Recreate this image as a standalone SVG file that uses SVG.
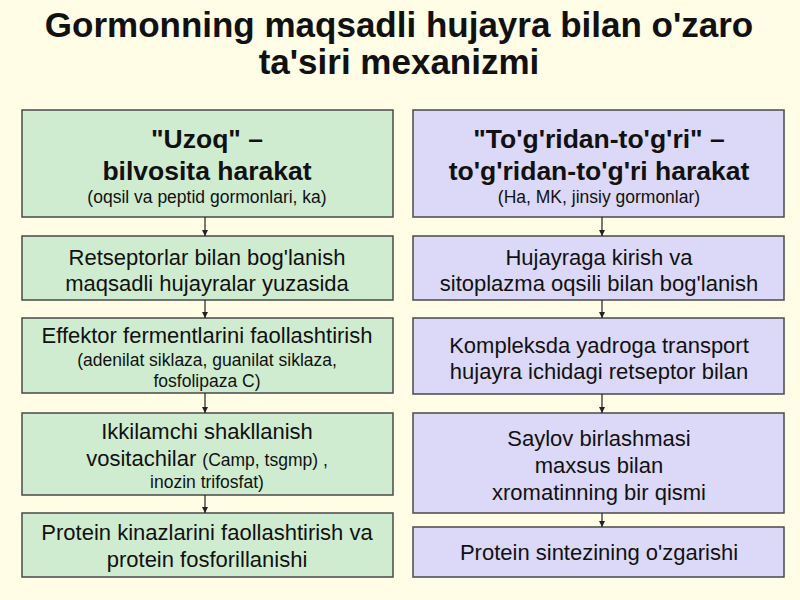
<svg xmlns="http://www.w3.org/2000/svg" width="800" height="600" viewBox="0 0 800 600">
<style>
text{font-family:"Liberation Sans",Arial,sans-serif;fill:#111;text-anchor:middle}
.t{font-size:35px;font-weight:bold}
.h{font-size:26.5px;font-weight:bold}
.m{font-size:22px}
.s{font-size:17.5px}
.g{fill:#d0ecd0;stroke:#4a4a4a;stroke-width:1.5}
.p{fill:#dcd8f7;stroke:#4a4a4a;stroke-width:1.5}
.c{stroke:#222;stroke-width:1.2;fill:none;marker-end:url(#a)}
</style>
<defs>
<marker id="a" viewBox="0 0 8 8" refX="8" refY="4" markerWidth="6" markerHeight="6" markerUnits="userSpaceOnUse" orient="auto">
<path d="M0,0L8,4L0,8z" fill="#222"/>
</marker>
</defs>
<rect width="800" height="600" fill="#fffde6"/>
<g id="title">
<text class="t" x="399" y="37">Gormonning maqsadli hujayra bilan o'zaro</text>
<text class="t" x="399" y="74">ta'siri mexanizmi</text>
</g>
<g id="L1"><rect class="g" x="22" y="110" width="371" height="107"/>
<text class="h" x="207" y="148">"Uzoq" –</text>
<text class="h" x="207" y="180">bilvosita harakat</text>
<text class="s" x="207" y="203">(oqsil va peptid gormonlari, ka)</text></g>
<g id="L2"><rect class="g" x="22" y="236" width="371" height="64"/>
<text class="m" x="207" y="265">Retseptorlar bilan bog'lanish</text>
<text class="m" x="207" y="291">maqsadli hujayralar yuzasida</text></g>
<g id="L3"><rect class="g" x="22" y="318" width="371" height="75"/>
<text class="m" x="207" y="343">Effektor fermentlarini faollashtirish</text>
<text class="s" x="207" y="366">(adenilat siklaza, guanilat siklaza,</text>
<text class="s" x="207" y="387">fosfolipaza C)</text></g>
<g id="L4"><rect class="g" x="22" y="413" width="371" height="82"/>
<text class="m" x="207" y="439">Ikkilamchi shakllanish</text>
<text class="m" x="207" y="466">vositachilar <tspan class="s">(Camp, tsgmp) ,</tspan></text>
<text class="s" x="207" y="488">inozin trifosfat)</text></g>
<g id="L5"><rect class="g" x="22" y="513" width="371" height="64"/>
<text class="m" x="207" y="540">Protein kinazlarini faollashtirish va</text>
<text class="m" x="207" y="567">protein fosforillanishi</text></g>
<g id="R1"><rect class="p" x="413" y="110" width="371" height="107"/>
<text class="h" x="599" y="148">"To'g'ridan-to'g'ri" –</text>
<text class="h" x="599" y="180">to'g'ridan-to'g'ri harakat</text>
<text class="s" x="599" y="203">(Ha, MK, jinsiy gormonlar)</text></g>
<g id="R2"><rect class="p" x="413" y="236" width="371" height="64"/>
<text class="m" x="599" y="265">Hujayraga kirish va</text>
<text class="m" x="599" y="291">sitoplazma oqsili bilan bog'lanish</text></g>
<g id="R3"><rect class="p" x="413" y="318" width="371" height="76"/>
<text class="m" x="599" y="353">Kompleksda yadroga transport</text>
<text class="m" x="599" y="379">hujayra ichidagi retseptor bilan</text></g>
<g id="R4"><rect class="p" x="413" y="413" width="371" height="100"/>
<text class="m" x="599" y="446">Saylov birlashmasi</text>
<text class="m" x="599" y="473">maxsus bilan</text>
<text class="m" x="599" y="500">xromatinning bir qismi</text></g>
<g id="R5"><rect class="p" x="413" y="527" width="371" height="50"/>
<text class="m" x="599" y="560">Protein sintezining o'zgarishi</text></g>
<g id="connectors">
<line class="c" x1="205" y1="217" x2="205" y2="236"/>
<line class="c" x1="205" y1="300" x2="205" y2="318"/>
<line class="c" x1="205" y1="393" x2="205" y2="413"/>
<line class="c" x1="205" y1="495" x2="205" y2="513"/>
<line class="c" x1="602" y1="217" x2="602" y2="236"/>
<line class="c" x1="602" y1="300" x2="602" y2="318"/>
<line class="c" x1="602" y1="394" x2="602" y2="413"/>
<line class="c" x1="602" y1="513" x2="602" y2="527"/>
</g>
</svg>
